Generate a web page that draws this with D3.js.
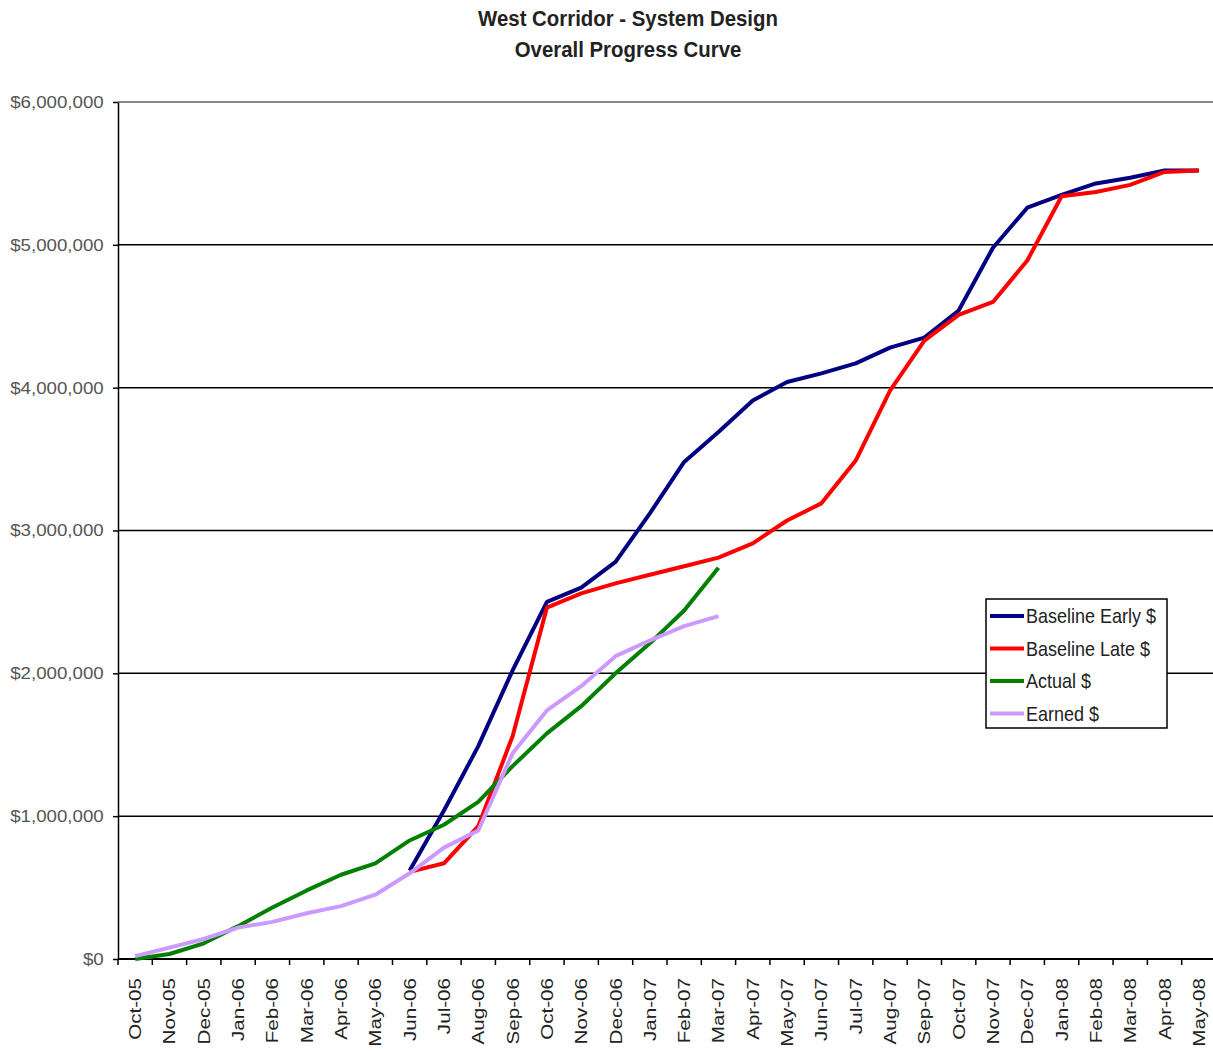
<!DOCTYPE html>
<html>
<head>
<meta charset="utf-8">
<script src="https://cdn.jsdelivr.net/npm/d3@7"></script>
<style>
  body { margin: 0; background: #fff; }
  text { font-family: "Liberation Sans Narrow", "Arial Narrow", "Liberation Sans", sans-serif; }
</style>
</head>
<body>
<script>
"use strict";

const months = ["Oct-05", "Nov-05", "Dec-05", "Jan-06", "Feb-06", "Mar-06", "Apr-06", "May-06",
  "Jun-06", "Jul-06", "Aug-06", "Sep-06", "Oct-06", "Nov-06", "Dec-06", "Jan-07", "Feb-07",
  "Mar-07", "Apr-07", "May-07", "Jun-07", "Jul-07", "Aug-07", "Sep-07", "Oct-07", "Nov-07",
  "Dec-07", "Jan-08", "Feb-08", "Mar-08", "Apr-08", "May-08"];

const yTicks = [0, 1000000, 2000000, 3000000, 4000000, 5000000, 6000000];

// values in $ millions, null = no point
const baselineEarly = [null, null, null, null, null, null, null, null,
  0.62, 1.04, 1.49, 2.02, 2.50, 2.60, 2.78, 3.12, 3.48, 3.69, 3.91, 4.04, 4.10, 4.17, 4.28,
  4.35, 4.54, 4.98, 5.26, 5.35, 5.43, 5.47, 5.52, 5.52];

const baselineLate = [null, null, null, null, null, null, null, null,
  0.61, 0.67, 0.93, 1.56, 2.46, 2.56, 2.63, 2.69, 2.75, 2.81, 2.91, 3.07, 3.19, 3.49, 3.98,
  4.33, 4.51, 4.60, 4.89, 5.34, 5.37, 5.42, 5.51, 5.52];

const actual = [0.0, 0.035, 0.11, 0.23, 0.36, 0.48, 0.59, 0.67, 0.83, 0.94, 1.10, 1.35, 1.58,
  1.77, 2.00, 2.21, 2.44, 2.74];

const earned = [0.02, 0.08, 0.14, 0.22, 0.26, 0.32, 0.37, 0.45, 0.60, 0.78, 0.90, 1.44, 1.74,
  1.91, 2.12, 2.23, 2.33, 2.40];

const seriesNames = ["Baseline Early $", "Baseline Late $", "Actual $", "Earned $"];
const seriesColors = ["#000080", "#ff0000", "#008000", "#cc99ff"];

let svg = d3.select("body")
  .append("svg")
  .attr("width", 1213)
  .attr("height", 1051);

const plotLeft = 118, plotRight = 1216, plotTop = 102, plotBottom = 959;

const x = d3.scaleBand()
  .domain(months)
  .range([plotLeft, plotRight]);

const y = d3.scaleLinear()
  .domain([0, 6000000])
  .range([plotBottom, plotTop]);

// title (tall, condensed look)
["West Corridor - System Design", "Overall Progress Curve"].forEach((t, i) => {
  svg.append("text")
    .attr("transform", `translate(628,${26 + i * 31}) scale(1.02,1.12)`)
    .attr("text-anchor", "middle")
    .attr("font-size", 20)
    .attr("font-weight", "bold")
    .attr("fill", "#222")
    .text(t);
});

// gridlines
svg.append("g")
  .selectAll("line")
  .data(yTicks.filter(d => d > 0))
  .enter()
  .append("line")
  .attr("x1", plotLeft).attr("x2", plotRight)
  .attr("y1", d => y(d)).attr("y2", d => y(d))
  .attr("stroke", d => d === 6000000 ? "#888" : "#000")
  .attr("stroke-width", d => d === 6000000 ? 2 : 1.5);

// y axis
const yAxis = svg.append("g")
  .attr("transform", `translate(${plotLeft},0)`)
  .call(d3.axisLeft(y).tickValues(yTicks).tickSize(5).tickSizeOuter(0)
    .tickFormat(d => "$" + d3.format(",")(d)));
yAxis.select(".domain").attr("stroke", "#000").attr("stroke-width", 1.5);
yAxis.selectAll("line").attr("stroke", "#000").attr("stroke-width", 1.5);
yAxis.selectAll("text")
  .attr("x", -13)
  .attr("transform", "scale(1.1,1)")
  .attr("font-size", 17)
  .attr("fill", "#555")
  .attr("font-family", "'Liberation Sans', sans-serif");

// x axis with ticks between categories
const xAxis = svg.append("g")
  .attr("transform", `translate(0,${plotBottom})`);
xAxis.append("line")
  .attr("x1", plotLeft).attr("x2", plotRight)
  .attr("stroke", "#000").attr("stroke-width", 2);
xAxis.selectAll(".tk")
  .data(months.concat(["end"]))
  .enter()
  .append("line")
  .attr("class", "tk")
  .attr("x1", (d, i) => plotLeft + i * x.step())
  .attr("x2", (d, i) => plotLeft + i * x.step())
  .attr("y1", 0).attr("y2", 6)
  .attr("stroke", "#000").attr("stroke-width", 1.5);
xAxis.selectAll(".lbl")
  .data(months)
  .enter()
  .append("text")
  .attr("class", "lbl")
  .attr("transform", d => `translate(${x(d) + x.bandwidth() / 2 + 6},19) rotate(-90) scale(1.25,1)`)
  .attr("text-anchor", "end")
  .attr("font-size", 16.5)
  .attr("fill", "#222")
  .attr("font-family", "'Liberation Sans', Arial, sans-serif")
  .text(d => d);

// lines
const line = d3.line()
  .defined(d => d.v !== null)
  .x(d => x(d.m) + x.bandwidth() / 2)
  .y(d => y(d.v * 1000000));

const allSeries = [baselineEarly, baselineLate, actual, earned];
allSeries.forEach((vals, k) => {
  svg.append("path")
    .datum(vals.map((v, i) => ({ m: months[i], v: v })))
    .attr("d", line)
    .attr("fill", "none")
    .attr("stroke", seriesColors[k])
    .attr("stroke-width", 4)
    .attr("stroke-linejoin", "round");
});

// legend
const legend = svg.append("g").attr("transform", "translate(986,599)");
legend.append("rect")
  .attr("width", 181).attr("height", 129)
  .attr("fill", "#fff")
  .attr("stroke", "#000").attr("stroke-width", 1.5);
seriesNames.forEach((name, k) => {
  const ly = 17 + k * 32.5;
  legend.append("line")
    .attr("x1", 4).attr("x2", 38)
    .attr("y1", ly).attr("y2", ly)
    .attr("stroke", seriesColors[k]).attr("stroke-width", 4);
  legend.append("text")
    .attr("transform", `translate(40,${ly + 7}) scale(1,1.15)`)
    .attr("font-size", 18)
    .attr("fill", "#222")
    .text(name);
});
</script>
</body>
</html>
